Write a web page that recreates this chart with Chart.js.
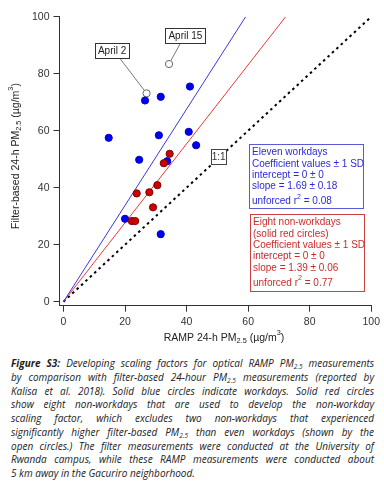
<!DOCTYPE html>
<html>
<head>
<meta charset="utf-8">
<script src="https://cdn.jsdelivr.net/npm/chart.js@4.4.0/dist/chart.umd.min.js"></script>
<style>
  body { margin: 0; background: #fff; width: 384px; height: 490px; overflow: hidden; }
  #wrap { position: relative; width: 384px; height: 350px; }
  #legenda { position: absolute; left: 11px; top: 357px; width: 363px;
    font-family: 'Open Sans', sans-serif; font-style: italic; font-size: 10px;
    line-height: 13.75px; color: #222; }
  #legenda div { text-align: justify; text-align-last: justify; height: 13.75px; }
  #legenda div.ultima { text-align-last: left; }
  #legenda sub { font-size: 6.5px; line-height: 0; vertical-align: -2px; }
</style>
</head>
<body>
<div id="wrap"><canvas id="grafico"></canvas></div>
<div id="legenda">
  <div><b>Figure S3:</b> Developing scaling factors for optical RAMP PM<sub>2.5</sub> measurements</div>
  <div>by comparison with filter-based 24-hour PM<sub>2.5</sub> measurements (reported by</div>
  <div>Kalisa et al. 2018). Solid blue circles indicate workdays. Solid red circles</div>
  <div>show eight non-workdays that are used to develop the non-workday</div>
  <div>scaling factor, which excludes two non-workdays that experienced</div>
  <div>significantly higher filter-based PM<sub>2.5</sub> than even workdays (shown by the</div>
  <div>open circles.) The filter measurements were conducted at the University of</div>
  <div>Rwanda campus, while these RAMP measurements were conducted about</div>
  <div class="ultima">5 km away in the Gacuriro neighborhood.</div>
</div>
<script>
// valores
const xTicks = [0, 20, 40, 60, 80, 100];
const yTicks = [0, 20, 40, 60, 80, 100];

const workdayRamp   = [14.7, 26.5, 31.6, 41.1, 31.0, 40.7, 24.6, 33.7, 43.1, 20.0, 31.6];
const workdayFilter = [57.5, 70.6, 71.9, 75.5, 58.4, 59.6, 49.8, 49.3, 54.9, 29.1, 23.7];

const nonWorkRamp   = [34.5, 32.6, 23.8, 27.9, 30.5, 29.1, 22.2, 23.3];
const nonWorkFilter = [51.9, 48.6, 38.0, 38.4, 40.9, 33.1, 28.3, 28.3];

const excludedLabels = ['April 2', 'April 15'];
const excludedRamp   = [27.0, 34.3];
const excludedFilter = [73.1, 83.4];

const workdayFitRamp   = [0, 59.2];
const workdayFitFilter = [0, 100];
const nonWorkFitRamp   = [0, 72.2];
const nonWorkFitFilter = [0, 100];
const oneToOneRamp   = [0, 100];
const oneToOneFilter = [0, 100];

const workdayStats = { intercept: '0 ± 0', slope: '1.69 ± 0.18', r2: '0.08' };
const nonWorkStats = { intercept: '0 ± 0', slope: '1.39 ± 0.06', r2: '0.77' };

const FONTE = "'Liberation Sans', Arial, sans-serif";

function pares(xs, ys) {
  return xs.map((x, i) => ({ x: x, y: ys[i] }));
}

function textoRico(ctx, partes, x, y, tam, alinhar) {
  const medidas = partes.map(p => {
    ctx.font = (p[1] ? tam * 0.7 : tam) + 'px ' + FONTE;
    return ctx.measureText(p[0]).width;
  });
  const total = medidas.reduce((a, b) => a + b, 0);
  let cx = alinhar === 'center' ? x - total / 2 : x;
  ctx.textAlign = 'left';
  ctx.textBaseline = 'middle';
  partes.forEach((p, i) => {
    ctx.font = (p[1] ? tam * 0.7 : tam) + 'px ' + FONTE;
    let dy = 0;
    if (p[1] === 'sub') dy = tam * 0.3;
    if (p[1] === 'sup') dy = -tam * 0.5;
    ctx.fillText(p[0], cx, y + dy);
    cx += medidas[i];
  });
  return total;
}

const anotacoes = {
  id: 'anotacoes',
  afterDraw(chart) {
    const ctx = chart.ctx;
    const sx = chart.scales.x, sy = chart.scales.y;
    ctx.save();

    // titulos dos eixos
    ctx.fillStyle = '#222';
    textoRico(ctx, [['RAMP 24-h PM'], ['2.5', 'sub'], [' (µg/m'], ['3', 'sup'], [')']], 224, 338, 10.5, 'center');
    ctx.save();
    ctx.translate(16, 156);
    ctx.rotate(-Math.PI / 2);
    textoRico(ctx, [['Filter-based 24-h PM'], ['2.5', 'sub'], [' (µg/m'], ['3', 'sup'], [')']], 0, 0, 10.5, 'center');
    ctx.restore();

    // caixas dos dias excluidos com linha guia
    const guias = [
      { caixa: [15.8, 88.0], ancora: [18.4, 85.3] },
      { caixa: [39.6, 93.4], ancora: [38.2, 91.1] }
    ];
    excludedLabels.forEach((txt, i) => {
      const px = sx.getPixelForValue(excludedRamp[i]);
      const py = sy.getPixelForValue(excludedFilter[i]);
      const ax = sx.getPixelForValue(guias[i].ancora[0]);
      const ay = sy.getPixelForValue(guias[i].ancora[1]);
      const ang = Math.atan2(py - ay, px - ax);
      ctx.strokeStyle = '#777';
      ctx.lineWidth = 1;
      ctx.beginPath();
      ctx.moveTo(ax, ay);
      ctx.lineTo(px - Math.cos(ang) * 4, py - Math.sin(ang) * 4);
      ctx.stroke();

      ctx.font = '10px ' + FONTE;
      const w = ctx.measureText(txt).width + 6;
      const cx = sx.getPixelForValue(guias[i].caixa[0]);
      const cy = sy.getPixelForValue(guias[i].caixa[1]);
      ctx.fillStyle = '#fff';
      ctx.fillRect(cx - w / 2, cy - 7.5, w, 15);
      ctx.strokeStyle = '#333';
      ctx.strokeRect(Math.round(cx - w / 2) + 0.5, Math.round(cy - 7.5) + 0.5, Math.round(w), 15);
      ctx.fillStyle = '#222';
      textoRico(ctx, [[txt]], cx, cy + 0.5, 10, 'center');
    });

    // caixa 1:1
    {
      const cx = sx.getPixelForValue(50.4), cy = sy.getPixelForValue(50.9);
      ctx.fillStyle = '#fff';
      ctx.fillRect(cx - 7.5, cy - 7.5, 15, 15);
      ctx.strokeStyle = '#444';
      ctx.strokeRect(Math.round(cx - 7.5) + 0.5, Math.round(cy - 7.5) + 0.5, 15, 15);
      ctx.fillStyle = '#333';
      textoRico(ctx, [['1:1']], cx, cy + 0.5, 10, 'center');
    }

    // caixas de legenda dos ajustes
    const caixas = [
      { l: 60.4, t: 55.3, r: 97.4, b: 32.9, cor: '#2b2bd6', borda: '#5a5ad8', linhas: [
        [['Eleven workdays']],
        [['Coefficient values ± 1 SD']],
        [['intercept = ' + workdayStats.intercept]],
        [['slope = ' + workdayStats.slope]],
        [['unforced r'], ['2', 'sup'], [' = ' + workdayStats.r2]]
      ] },
      { l: 60.6, t: 30.8, r: 97.6, b: 3.9, cor: '#cc2a2a', borda: '#cc4040', linhas: [
        [['Eight non-workdays']],
        [['(solid red circles)']],
        [['Coefficient values ± 1 SD']],
        [['intercept = ' + nonWorkStats.intercept]],
        [['slope = ' + nonWorkStats.slope]],
        [['unforced r'], ['2', 'sup'], [' = ' + nonWorkStats.r2]]
      ] }
    ];
    caixas.forEach(c => {
      const l = Math.round(sx.getPixelForValue(c.l)) + 0.5;
      const t = Math.round(sy.getPixelForValue(c.t)) + 0.5;
      const r = Math.round(sx.getPixelForValue(c.r)) + 0.5;
      const b = Math.round(sy.getPixelForValue(c.b)) + 0.5;
      ctx.fillStyle = '#fff';
      ctx.fillRect(l, t, r - l, b - t);
      ctx.strokeStyle = c.borda;
      ctx.lineWidth = 1;
      ctx.strokeRect(l, t, r - l, b - t);
      ctx.fillStyle = c.cor;
      let y = t + 8;
      c.linhas.forEach((partes, k) => {
        if (partes.length > 1) y += 3.5;
        textoRico(ctx, partes, l + 2.5, y, 10, 'left');
        y += 11.4;
      });
    });

    ctx.restore();
  }
};

const eixo = (ticks) => ({
  type: 'linear',
  afterBuildTicks: s => { s.ticks = ticks.map(v => ({ value: v })); },
  grid: { display: true, drawOnChartArea: false, drawTicks: true, tickLength: 6, tickColor: '#333', tickWidth: 1 },
  border: { display: true, color: '#333', width: 1 },
  ticks: { color: '#333', font: { family: FONTE, size: 10.5 } }
});

const escalaX = eixo(xTicks);
escalaX.min = -1.29; escalaX.max = 100;
escalaX.ticks.padding = 4;
escalaX.afterFit = s => { s.height = 44.3; };

const escalaY = eixo(yTicks);
escalaY.min = -1.4; escalaY.max = 100;
escalaY.ticks.padding = 4;
escalaY.afterFit = s => { s.width = 59.5; };

new Chart(document.getElementById('grafico').getContext('2d'), {
  type: 'scatter',
  data: {
    datasets: [
      {
        label: 'Non-workdays',
        data: pares(nonWorkRamp, nonWorkFilter),
        backgroundColor: '#d40000', borderColor: '#7a0000', borderWidth: 1,
        pointRadius: 3.6, order: 0
      },
      {
        label: 'Workdays',
        data: pares(workdayRamp, workdayFilter),
        backgroundColor: '#0000f0', borderColor: '#0000c0', borderWidth: 1,
        pointRadius: 3.6, order: 1
      },
      {
        label: 'Excluded',
        data: pares(excludedRamp, excludedFilter),
        backgroundColor: '#fff', borderColor: '#666', borderWidth: 1,
        pointRadius: 3.6, order: 1
      },
      {
        label: 'Workday fit',
        type: 'line',
        data: pares(workdayFitRamp, workdayFitFilter),
        borderColor: '#3a3ad8', borderWidth: 1, pointRadius: 0, fill: false, order: 5
      },
      {
        label: 'Non-workday fit',
        type: 'line',
        data: pares(nonWorkFitRamp, nonWorkFitFilter),
        borderColor: '#e23c3c', borderWidth: 1, pointRadius: 0, fill: false, order: 5
      },
      {
        label: '1:1',
        type: 'line',
        data: pares(oneToOneRamp, oneToOneFilter),
        borderColor: '#000', borderWidth: 2, borderDash: [2.5, 3.5],
        pointRadius: 0, fill: false, order: 6
      }
    ]
  },
  options: {
    responsive: true,
    maintainAspectRatio: false,
    animation: false,
    layout: { padding: { left: 0, right: 10, top: 16.7, bottom: 0 } },
    scales: { x: escalaX, y: escalaY },
    plugins: {
      legend: { display: false },
      tooltip: { enabled: false }
    }
  },
  plugins: [anotacoes]
});
</script>
</body>
</html>
